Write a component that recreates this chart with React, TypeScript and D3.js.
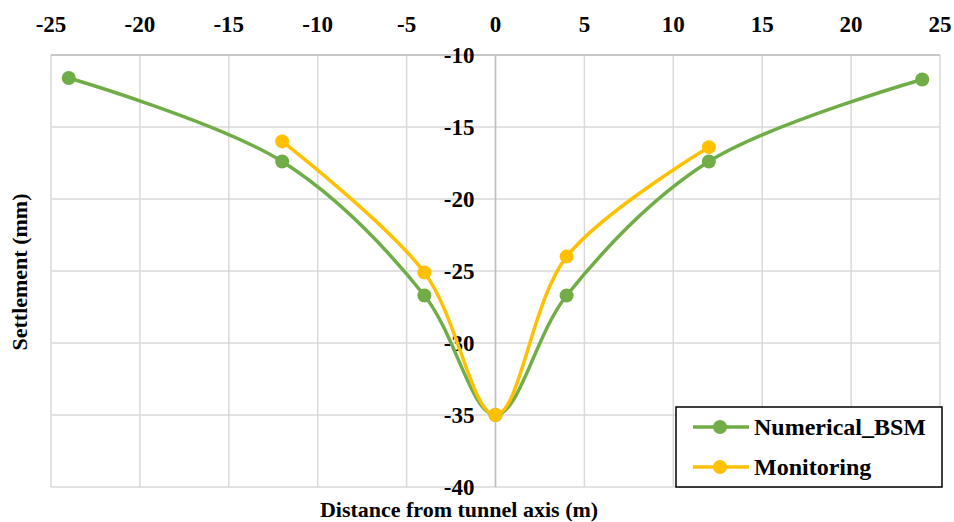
import React from 'react';
import * as d3 from 'd3';

// distances (m) and settlements (mm)
const numericalX = [-24, -12, -4, 0, 4, 12, 24];
const numericalY = [-11.6, -17.4, -26.7, -35, -26.7, -17.4, -11.7];
const monitoringX = [-12, -4, 0, 4, 12];
const monitoringY = [-16.0, -25.1, -35, -24.0, -16.4];

const xTicks = [-25, -20, -15, -10, -5, 0, 5, 10, 15, 20, 25];
const yTicks = [-10, -15, -20, -25, -30, -35, -40];

const series = [
  { name: 'Numerical_BSM', color: '#70AD47', xs: numericalX, ys: numericalY },
  { name: 'Monitoring', color: '#FFC000', xs: monitoringX, ys: monitoringY },
];

const W = 954;
const H = 522;
const FONT = "'Liberation Serif'";

const App: React.FC = () => {
  const x = d3.scaleLinear().domain([-25, 25]).range([51, 940]);
  const y = d3.scaleLinear().domain([-10, -40]).range([55, 487]);

  const line = d3.line<[number, number]>()
    .x(d => x(d[0]))
    .y(d => y(d[1]))
    .curve(d3.curveCatmullRom.alpha(0.5));

  const txt = { fontFamily: FONT, fontWeight: 700 };

  return (
    <svg width={W} height={H} style={{ position: 'absolute', left: 0, top: 0, background: '#fff' }}>
      {/* grid */}
      <g stroke="#d9d9d9" strokeWidth={1.5}>
        {xTicks.map(t => (
          <line key={'vx' + t} x1={x(t)} x2={x(t)} y1={y(-10)} y2={y(-40)} />
        ))}
        {yTicks.map(t => (
          <line key={'hy' + t} x1={x(-25)} x2={x(25)} y1={y(t)} y2={y(t)} />
        ))}
      </g>
      {/* axes lines */}
      <line x1={x(-25)} x2={x(25)} y1={y(-10)} y2={y(-10)} stroke="#bfbfbf" strokeWidth={1.5} />
      <line x1={x(0)} x2={x(0)} y1={y(-10)} y2={y(-40)} stroke="#bfbfbf" strokeWidth={1.5} />

      {/* tick labels */}
      {xTicks.map(t => (
        <text key={'tx' + t} x={x(t)} y={32} textAnchor="middle" style={{ ...txt, fontSize: 23 }}>{t}</text>
      ))}
      {yTicks.map(t => (
        <text key={'ty' + t} x={x(0) - 21} y={y(t) + 8} textAnchor="end" style={{ ...txt, fontSize: 23 }}>{t}</text>
      ))}

      {/* series */}
      {series.map(s => {
        const pts = s.xs.map((v, i) => [v, s.ys[i]] as [number, number]);
        return (
          <g key={s.name}>
            <path d={line(pts) || ''} fill="none" stroke={s.color} strokeWidth={3.5} />
            {pts.map((p, i) => (
              <circle key={i} cx={x(p[0])} cy={y(p[1])} r={7} fill={s.color} />
            ))}
          </g>
        );
      })}

      {/* axis titles */}
      <text x={459} y={517} textAnchor="middle" style={{ ...txt, fontSize: 22 }}>
        Distance from tunnel axis (m)
      </text>
      <text transform="translate(27,272) rotate(-90)" textAnchor="middle" style={{ ...txt, fontSize: 22 }}>
        Settlement (mm)
      </text>

      {/* legend */}
      <g>
        <rect x={676} y={407} width={266} height={80} fill="#fff" stroke="#000" strokeWidth={1.5} />
        {series.map((s, i) => {
          const ly = 427 + i * 40;
          return (
            <g key={s.name}>
              <line x1={693} x2={749} y1={ly} y2={ly} stroke={s.color} strokeWidth={3.5} />
              <circle cx={720} cy={ly} r={7} fill={s.color} />
              <text x={754} y={ly + 8} style={{ ...txt, fontSize: 24 }}>{s.name}</text>
            </g>
          );
        })}
      </g>
    </svg>
  );
};

export default App;
